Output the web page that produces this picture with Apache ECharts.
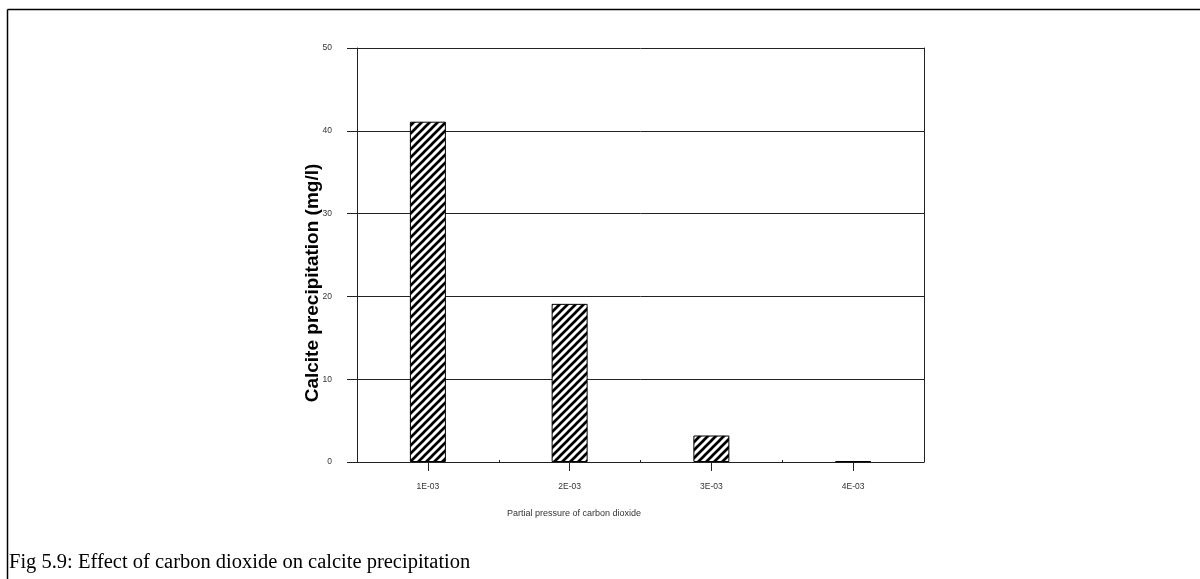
<!DOCTYPE html>
<html><head><meta charset="utf-8">
<script src="https://cdn.jsdelivr.net/npm/echarts@6/dist/echarts.min.js"></script>
<style>html,body{margin:0;padding:0;background:#fff}#c{width:1200px;height:579px}</style>
</head><body><div id="c"></div>
<script>
// ---- data ----
const categories = ['1E-03', '2E-03', '3E-03', '4E-03'];
const calcite = [41.1, 19.1, 3.2, 0.1];
const yTicks = [0, 10, 20, 30, 40, 50];
const xTitle = 'Partial pressure of carbon dioxide';
const yTitle = 'Calcite precipitation (mg/l)';
const caption = 'Fig 5.9: Effect of carbon dioxide on calcite precipitation';

function hatch() {
  const s = 8, c = document.createElement('canvas');
  c.width = s; c.height = s;
  const g = c.getContext('2d');
  g.fillStyle = '#fff'; g.fillRect(0, 0, s, s);
  g.strokeStyle = '#000'; g.lineWidth = 2.7;
  g.beginPath();
  g.moveTo(0, s); g.lineTo(s, 0);
  g.moveTo(-s / 2, s / 2); g.lineTo(s / 2, -s / 2);
  g.moveTo(s / 2, s * 1.5); g.lineTo(s * 1.5, s / 2);
  g.stroke();
  return c;
}

const chart = echarts.init(document.getElementById('c'), null, {renderer: 'canvas'});
const lineCol = '#222';
chart.setOption({
  animation: false,
  backgroundColor: '#fff',
  grid: {left: 357, right: 276, top: 48, bottom: 117, containLabel: false},
  xAxis: [{
    type: 'category', data: categories, position: 'bottom',
    axisLine: {show: true, lineStyle: {color: lineCol, width: 1}},
    axisTick: {show: true, alignWithLabel: true, length: 9, lineStyle: {color: lineCol}},
    axisLabel: {margin: 20, fontSize: 8.5, fontFamily: 'Liberation Sans, Arial', color: '#333'},
    splitLine: {show: false}
  }, {
    type: 'category', data: categories, position: 'bottom',
    axisLine: {show: false},
    axisTick: {show: true, inside: true, length: 2, lineStyle: {color: lineCol}},
    axisLabel: {show: false}, splitLine: {show: false}
  }],
  yAxis: [{
    type: 'value', min: yTicks[0], max: yTicks[yTicks.length - 1],
    interval: yTicks[1] - yTicks[0],
    axisLine: {show: true, lineStyle: {color: lineCol}},
    axisTick: {show: true, length: 10, lineStyle: {color: lineCol}},
    axisLabel: {margin: 25, fontSize: 8.5, fontFamily: 'Liberation Sans, Arial', color: '#333'},
    splitLine: {show: true, lineStyle: {color: '#222', width: 1}}
  }, {
    type: 'value', position: 'right', min: yTicks[0], max: yTicks[yTicks.length - 1],
    interval: yTicks[1] - yTicks[0],
    axisLine: {show: true, lineStyle: {color: lineCol}},
    axisTick: {show: false}, axisLabel: {show: false}, splitLine: {show: false}
  }],
  series: [{
    type: 'bar', data: calcite, barWidth: 36, xAxisIndex: 0, yAxisIndex: 0,
    itemStyle: {color: {image: hatch(), repeat: 'repeat'}, borderColor: '#000', borderWidth: 1}
  }],
  graphic: [
    {type: 'line', shape: {x1: 7.5, y1: 9.5, x2: 1200, y2: 9.5}, style: {stroke: '#000', lineWidth: 1.5}},
    {type: 'line', shape: {x1: 7.5, y1: 9.5, x2: 7.5, y2: 579}, style: {stroke: '#000', lineWidth: 1.5}},
    {type: 'text', x: 574, y: 514, style: {text: xTitle, fontSize: 9, fontFamily: 'Liberation Sans, Arial', fill: '#333', align: 'center', verticalAlign: 'middle'}},
    {type: 'text', x: 313, y: 283, rotation: Math.PI / 2, style: {text: yTitle, fontSize: 19, fontWeight: 'bold', fontFamily: 'Liberation Sans, Arial', fill: '#000', align: 'center', verticalAlign: 'middle'}},
    {type: 'text', left: 9, top: 552, style: {text: caption, fontSize: 20.5, fontFamily: 'Liberation Serif, Times New Roman', fill: '#000'}}
  ]
});
</script>
</body></html>
